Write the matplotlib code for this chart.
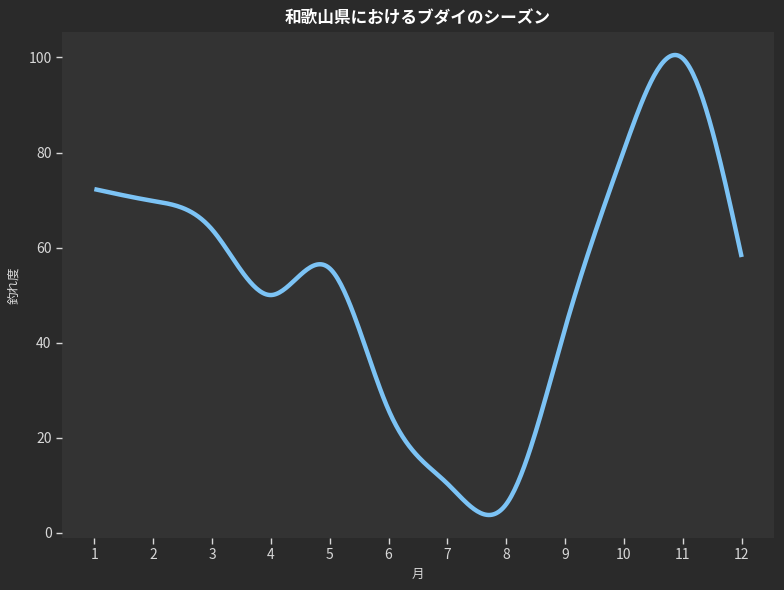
import numpy as np
import matplotlib
matplotlib.use("Agg")
import matplotlib.pyplot as plt

plt.rcParams['font.family'] = ['Noto Sans CJK JP', 'DejaVu Sans']

months = [1, 2, 3, 4, 5, 6, 7, 8, 9, 10, 11, 12]
catch_index = [72.3, 69.8, 63.8, 50, 55.6, 25.8, 10.3, 6.0, 43, 80.5, 99.8, 58]
title = "和歌山県におけるブダイのシーズン"
xlabel = "月"
ylabel = "釣れ度"


def natural_spline(x, y, num=400):
    x = np.asarray(x, float)
    y = np.asarray(y, float)
    n = len(x)
    h = np.diff(x)
    A = np.zeros((n, n))
    b = np.zeros(n)
    A[0, 0] = 1
    A[-1, -1] = 1
    for i in range(1, n - 1):
        A[i, i - 1] = h[i - 1]
        A[i, i] = 2 * (h[i - 1] + h[i])
        A[i, i + 1] = h[i]
        b[i] = 6 * ((y[i + 1] - y[i]) / h[i] - (y[i] - y[i - 1]) / h[i - 1])
    M = np.linalg.solve(A, b)
    xs = np.linspace(x[0], x[-1], num)
    idx = np.clip(np.searchsorted(x, xs) - 1, 0, n - 2)
    hi = h[idx]
    a = (x[idx + 1] - xs)
    c = (xs - x[idx])
    ys = (M[idx] * a**3 / (6 * hi) + M[idx + 1] * c**3 / (6 * hi)
          + (y[idx] / hi - M[idx] * hi / 6) * a
          + (y[idx + 1] / hi - M[idx + 1] * hi / 6) * c)
    return xs, ys


fig = plt.figure(figsize=(7.84, 5.9), dpi=100, facecolor='#2a2a2a')
ax = fig.add_axes([62 / 784, 1 - 538 / 590, (774 - 62) / 784, (538 - 32) / 590])
ax.set_facecolor('#333333')

xs, ys = natural_spline(months, catch_index)
ax.plot(xs, ys, color='#7cc3f5', lw=3.2, solid_capstyle='butt')

for s in ax.spines.values():
    s.set_visible(False)
ax.set_xticks(months)
ax.set_yticks([0, 20, 40, 60, 80, 100])
ax.tick_params(colors='#d8d8d8', labelsize=10, length=4, width=1)
ax.set_xlabel(xlabel, color='#d8d8d8', fontsize=9, labelpad=4)
ax.set_ylabel(ylabel, color='#d8d8d8', fontsize=9, labelpad=6)
ax.set_title(title, color='white', fontsize=12, fontweight='bold', pad=6)

fig.savefig("out.png", dpi=100, facecolor=fig.get_facecolor())
